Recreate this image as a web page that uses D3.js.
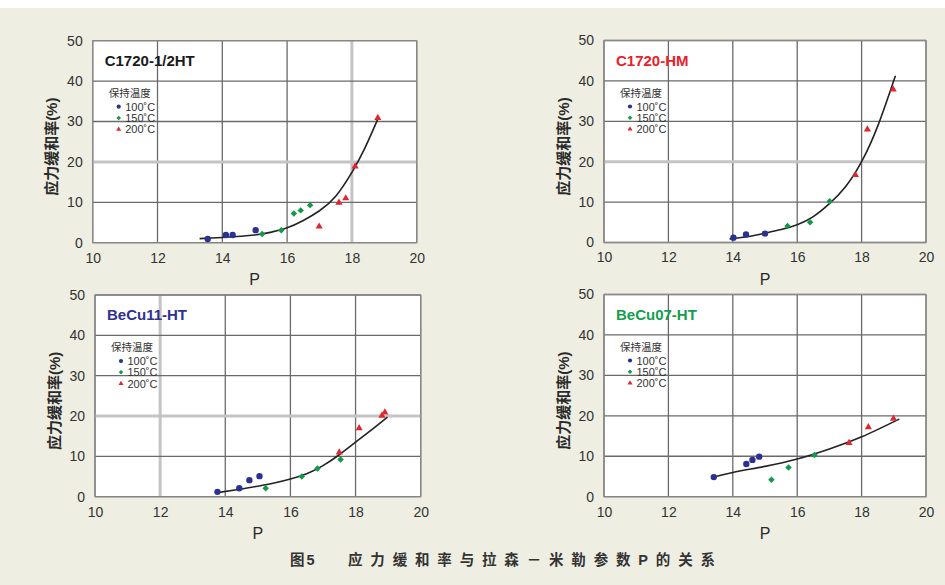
<!DOCTYPE html>
<html><head><meta charset="utf-8">
<script src="https://cdn.jsdelivr.net/npm/d3@7/dist/d3.min.js"></script>
<style>
html,body{margin:0;padding:0;background:#eeeee2;}
svg{display:block;}
text{font-family:"Liberation Sans",Arial,"Noto Sans CJK SC",sans-serif;}
</style></head>
<body>
<svg id="chart" width="945" height="585"></svg>
<script>
// ---------- data ----------
const xTicks = [10, 12, 14, 16, 18, 20];
const yTicks = [0, 10, 20, 30, 40, 50];
const legendTitle = "保持温度";
const seriesNames = ["100˚C", "150˚C", "200˚C"];
const xLabel = "P";
const yLabel = "应力缓和率(%)";
const captionNo = "图5";
const captionText = "应力缓和率与拉森－米勒参数P的关系";

const panelTitles = ["C1720-1/2HT", "C1720-HM", "BeCu11-HT", "BeCu07-HT"];

// C1720-1/2HT
const halfHT_100 = [[13.55, 0.9], [14.11, 1.9], [14.32, 1.9], [15.03, 3.1]];
const halfHT_150 = [[15.23, 2.15], [15.82, 3.1], [16.21, 7.2], [16.42, 8.0], [16.71, 9.3]];
const halfHT_200 = [[16.99, 4.0], [17.6, 9.9], [17.81, 11.0], [18.1, 18.9], [18.8, 30.9]];
const halfHT_curve = [[13.3, 1.0], [14, 1.3], [15, 1.9], [15.5, 2.6], [16, 3.7], [16.5, 5.5], [17, 7.9], [17.5, 11.5], [18, 17.4], [18.4, 23.4], [18.8, 30.6]];

// C1720-HM
const hm_100 = [[14.02, 1.2], [14.41, 2.0], [15.0, 2.2]];
const hm_150 = [[15.70, 4.1], [16.40, 5.0], [17.01, 10.2]];
const hm_200 = [[17.81, 16.7], [18.18, 28.0], [18.98, 37.9]];
const hm_curve = [[13.9, 0.9], [14.5, 1.5], [15, 2.3], [15.5, 3.2], [16, 4.4], [16.5, 6.4], [17, 9.6], [17.5, 13.8], [18, 20.0], [18.5, 28.8], [19.05, 41.3]];

// BeCu11-HT
const becu11_100 = [[13.76, 1.2], [14.43, 2.1], [14.74, 4.1], [15.05, 5.1]];
const becu11_150 = [[15.24, 2.1], [16.35, 5.0], [16.83, 7.0], [17.54, 9.2]];
const becu11_200 = [[17.5, 11.0], [18.11, 17.0], [18.81, 20.1], [18.9, 20.9]];
const becu11_curve = [[13.76, 1.0], [14.5, 1.9], [15, 2.6], [15.5, 3.4], [16, 4.4], [16.5, 5.7], [17, 7.7], [17.5, 10.4], [18, 13.5], [18.5, 16.6], [18.98, 19.7]];

// BeCu07-HT
const becu07_100 = [[13.41, 4.85], [14.42, 8.1], [14.61, 9.1], [14.82, 9.9]];
const becu07_150 = [[15.20, 4.2], [15.73, 7.2], [16.54, 10.3]];
const becu07_200 = [[17.61, 13.3], [18.21, 17.2], [18.99, 19.3]];
const becu07_curve = [[13.41, 4.85], [14, 6.0], [15, 7.5], [16, 9.3], [17, 11.8], [18, 14.8], [19.17, 19.2]];

// ---------- layout & style ----------
const panels = [
  {title: panelTitles[0], color: "#1a1a1a", x0: 92.7, x1: 416.7, y0: 40.7, y1: 242.7,
   series: [halfHT_100, halfHT_150, halfHT_200], curve: halfHT_curve, lightX: [18], lightY: [20]},
  {title: panelTitles[1], color: "#e8202a", x0: 604, x1: 926, y0: 40.5, y1: 242.5,
   series: [hm_100, hm_150, hm_200], curve: hm_curve, lightX: [], lightY: [20]},
  {title: panelTitles[2], color: "#2e3192", x0: 95, x1: 420.7, y0: 295, y1: 496.7,
   series: [becu11_100, becu11_150, becu11_200], curve: becu11_curve, lightX: [12], lightY: [20]},
  {title: panelTitles[3], color: "#12a04e", x0: 604, x1: 926, y0: 294.5, y1: 496.7,
   series: [becu07_100, becu07_150, becu07_200], curve: becu07_curve, lightX: [], lightY: []}
];
const seriesColors = ["#2b3190", "#12994a", "#e0262e"];
const seriesSymbols = [d3.symbolCircle, d3.symbolSquare, d3.symbolTriangle];
const seriesRotate = [0, 45, 0];
const seriesSizes = [32, 21, 22];
const legendSizes = [14, 10, 11];

const svg = d3.select("#chart");
svg.append("rect").attr("x", 0).attr("y", 0).attr("width", 945).attr("height", 585).attr("fill", "#eeeee2");
svg.append("rect").attr("x", 0).attr("y", 0).attr("width", 945).attr("height", 8).attr("fill", "#ffffff");

panels.forEach(p => {
  const x = d3.scaleLinear().domain([xTicks[0], xTicks[xTicks.length - 1]]).range([p.x0, p.x1]);
  const y = d3.scaleLinear().domain([yTicks[0], yTicks[yTicks.length - 1]]).range([p.y1, p.y0]);
  const g = svg.append("g");

  g.append("rect").attr("x", p.x0).attr("y", p.y0).attr("width", p.x1 - p.x0).attr("height", p.y1 - p.y0)
    .attr("fill", "#ffffff");

  // grid
  g.selectAll(".gx").data(xTicks).join("line")
    .attr("x1", d => x(d)).attr("x2", d => x(d)).attr("y1", p.y0).attr("y2", p.y1)
    .attr("stroke", d => p.lightX.includes(d) ? "#c4c4c4" : "#6a6a6a")
    .attr("stroke-width", d => p.lightX.includes(d) ? 3 : 1.3);
  g.selectAll(".gy").data(yTicks).join("line")
    .attr("x1", p.x0).attr("x2", p.x1).attr("y1", d => y(d)).attr("y2", d => y(d))
    .attr("stroke", d => p.lightY.includes(d) ? "#c4c4c4" : "#6a6a6a")
    .attr("stroke-width", d => p.lightY.includes(d) ? 3 : 1.3);
  g.append("rect").attr("x", p.x0).attr("y", p.y0).attr("width", p.x1 - p.x0).attr("height", p.y1 - p.y0)
    .attr("fill", "none").attr("stroke", "#8a8a8a").attr("stroke-width", 1.2);

  // axes (labels via d3 axes, no domain/ticks)
  const ax = g.append("g").attr("transform", `translate(0,${p.y1})`)
    .call(d3.axisBottom(x).tickValues(xTicks).tickSize(0).tickPadding(10).tickFormat(d3.format("d")));
  ax.select(".domain").remove();
  ax.selectAll("text").attr("font-size", 14).attr("fill", "#333").attr("font-family", "Liberation Sans, Arial, sans-serif");
  const ay = g.append("g").attr("transform", `translate(${p.x0},0)`)
    .call(d3.axisLeft(y).tickValues(yTicks).tickSize(0).tickPadding(10).tickFormat(d3.format("d")));
  ay.select(".domain").remove();
  ay.selectAll("text").attr("font-size", 14).attr("fill", "#333").attr("font-family", "Liberation Sans, Arial, sans-serif");

  // axis titles
  g.append("text").attr("x", (p.x0 + p.x1) / 2).attr("y", p.y1 + 42).attr("text-anchor", "middle")
    .attr("font-size", 16).attr("fill", "#2a2a2a").text(xLabel);
  g.append("text").attr("transform", `translate(${p.x0 - 41},${(p.y0 + p.y1) / 2 + 5}) rotate(-90)`)
    .attr("text-anchor", "middle").attr("dominant-baseline", "central")
    .attr("font-size", 15).attr("font-weight", "bold").attr("fill", "#2a2a2a")
    .attr("font-family", "Noto Sans CJK SC, sans-serif").text(yLabel);

  // title
  g.append("text").attr("x", p.x0 + 12).attr("y", p.y0 + 19.5).attr("dominant-baseline", "central")
    .attr("font-size", 15).attr("font-weight", "bold").attr("fill", p.color).text(p.title);

  // legend
  g.append("text").attr("x", p.x0 + 16).attr("y", p.y0 + 52).attr("dominant-baseline", "central")
    .attr("font-size", 10.5).attr("fill", "#333").attr("font-family", "Noto Sans CJK SC, sans-serif").text(legendTitle);
  seriesNames.forEach((name, i) => {
    const ly = p.y0 + 66 + i * 11.3;
    g.append("path").attr("d", d3.symbol(seriesSymbols[i], legendSizes[i])())
      .attr("transform", `translate(${p.x0 + 26},${ly}) rotate(${seriesRotate[i]})`).attr("fill", seriesColors[i]);
    g.append("text").attr("x", p.x0 + 32.5).attr("y", ly).attr("dominant-baseline", "central")
      .attr("font-size", 11).attr("fill", "#333").text(name);
  });

  // curve
  g.append("path").datum(p.curve)
    .attr("d", d3.line().x(d => x(d[0])).y(d => y(d[1])).curve(d3.curveNatural))
    .attr("fill", "none").attr("stroke", "#222").attr("stroke-width", 1.6);

  // points
  p.series.forEach((s, i) => {
    g.selectAll(null).data(s).join("path")
      .attr("d", d3.symbol(seriesSymbols[i], seriesSizes[i])())
      .attr("transform", d => `translate(${x(d[0])},${y(d[1])}) rotate(${seriesRotate[i]})`)
      .attr("fill", seriesColors[i]);
  });
});

// caption
svg.append("text").attr("x", 290).attr("y", 560).attr("dominant-baseline", "central")
  .attr("font-size", 14.5).attr("font-weight", "bold").attr("fill", "#333")
  .attr("font-family", "Noto Sans CJK SC, sans-serif").attr("letter-spacing", 2).text(captionNo);
svg.append("text").attr("x", 348).attr("y", 560).attr("dominant-baseline", "central")
  .attr("font-size", 14.5).attr("font-weight", "bold").attr("fill", "#333")
  .attr("font-family", "Noto Sans CJK SC, sans-serif")
  .attr("textLength", 367).attr("lengthAdjust", "spacing").text(captionText);
</script>
</body></html>
